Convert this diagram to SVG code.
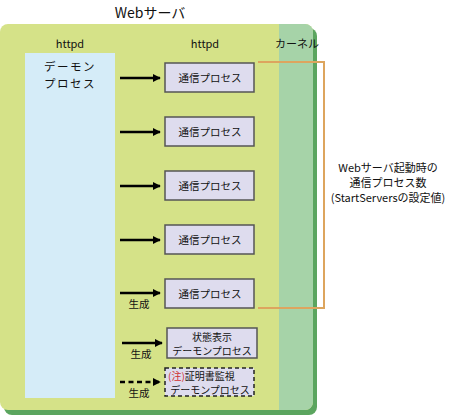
<svg xmlns="http://www.w3.org/2000/svg" width="456" height="416" viewBox="0 0 456 416">
<defs>
<style>
text{font-family:"Noto Sans CJK JP","Noto Sans CJK SC",sans-serif;fill:#111}
.t{font-size:11px;text-anchor:middle}
.p{font-size:10.5px;text-anchor:middle}
.s{font-size:10px;text-anchor:middle}
.proc rect{fill:#DEDCEE;stroke:#555;stroke-width:1.5}
.arr{stroke:#000;stroke-width:2.5;fill:none}
</style>
<marker id="ah" viewBox="0 0 10 10" refX="9" refY="5" markerWidth="3.2" markerHeight="3.2" orient="auto" markerUnits="strokeWidth">
<path d="M0,0 L10,5 L0,10 z" fill="#000"/>
</marker>
</defs>
<g id="webserver">
<rect x="4" y="28" width="313" height="387" rx="8" fill="#5BA55F"/>
<rect x="0" y="24" width="313" height="386" rx="8" fill="#D5E288"/>
<path d="M279,24 H305 A8,8 0 0 1 313,32 V402 A8,8 0 0 1 305,410 H279 Z" fill="#A6D3A8"/>
<text x="150" y="18" style="font-size:14px;text-anchor:middle">Webサーバ</text>
<text class="t" x="70" y="48">httpd</text>
<text class="t" x="205" y="48">httpd</text>
<text class="t" x="297" y="48">カーネル</text>
</g>
<g id="daemon">
<rect x="25" y="53" width="90" height="345" fill="#D5ECF8"/>
<text x="70" y="71" style="font-size:11.5px;text-anchor:middle;letter-spacing:1.5px">デーモン</text>
<text x="70" y="87.5" style="font-size:11.5px;text-anchor:middle;letter-spacing:1.5px">プロセス</text>
</g>
<g id="proc1" class="proc"><rect x="165" y="63" width="89" height="29"/><text class="p" x="210" y="82">通信プロセス</text></g>
<g id="proc2" class="proc"><rect x="165" y="117" width="89" height="29"/><text class="p" x="210" y="136">通信プロセス</text></g>
<g id="proc3" class="proc"><rect x="165" y="171" width="89" height="29"/><text class="p" x="210" y="190">通信プロセス</text></g>
<g id="proc4" class="proc"><rect x="165" y="225" width="89" height="29"/><text class="p" x="210" y="244">通信プロセス</text></g>
<g id="proc5" class="proc"><rect x="165" y="279" width="89" height="29"/><text class="p" x="210" y="298">通信プロセス</text></g>
<g id="status" class="proc"><rect x="167" y="328" width="90" height="30"/><text class="s" x="212" y="341">状態表示</text><text class="s" x="212" y="354.5">デーモンプロセス</text></g>
<g id="cert"><rect x="165" y="368" width="89" height="28" fill="#DEDCEE" stroke="#222" stroke-width="1.5" stroke-dasharray="4,3"/><text x="168" y="380" style="font-size:10px"><tspan style="fill:#D03030">(注)</tspan>証明書監視</text><text class="s" x="210" y="393.5">デーモンプロセス</text></g>
<g id="connectors">
<line class="arr" x1="120" y1="78" x2="160" y2="78" marker-end="url(#ah)"/>
<line class="arr" x1="120" y1="132" x2="160" y2="132" marker-end="url(#ah)"/>
<line class="arr" x1="120" y1="186" x2="160" y2="186" marker-end="url(#ah)"/>
<line class="arr" x1="120" y1="240" x2="160" y2="240" marker-end="url(#ah)"/>
<line class="arr" x1="120" y1="293" x2="160" y2="293" marker-end="url(#ah)"/>
<line class="arr" x1="122" y1="343" x2="162" y2="343" marker-end="url(#ah)"/>
<line class="arr" x1="120" y1="382" x2="160" y2="382" stroke-dasharray="5,3.5" marker-end="url(#ah)"/>
<text x="139" y="308" style="font-size:10.5px;text-anchor:middle">生成</text>
<text x="141" y="358" style="font-size:10.5px;text-anchor:middle">生成</text>
<text x="139" y="397" style="font-size:10.5px;text-anchor:middle">生成</text>
<polyline points="258,62 324,62 324,308 258,308" fill="none" stroke="#DDA55E" stroke-width="2"/>
</g>
<g id="note">
<text class="t" x="388" y="172">Webサーバ起動時の</text>
<text class="t" x="388" y="187">通信プロセス数</text>
<text class="t" x="388" y="202">(StartServersの設定値)</text>
</g>
</svg>
